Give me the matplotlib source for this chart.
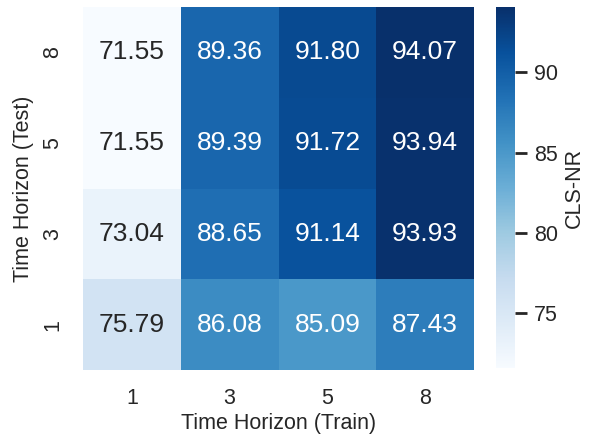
import matplotlib
matplotlib.use("Agg")
import matplotlib.pyplot as plt
import seaborn as sns
import numpy as np
import pandas as pd

train_horizons = [1, 3, 5, 8]
test_horizons = [8, 5, 3, 1]

# CLS-NR scores; rows follow test_horizons (top to bottom)
row_test8 = [71.55, 89.36, 91.80, 94.07]
row_test5 = [71.55, 89.39, 91.72, 93.94]
row_test3 = [73.04, 88.65, 91.14, 93.93]
row_test1 = [75.79, 86.08, 85.09, 87.43]

sns.set_theme(style="white")
plt.rcParams['font.family'] = ['Liberation Sans', 'DejaVu Sans']

df = pd.DataFrame([row_test8, row_test5, row_test3, row_test1],
                  index=test_horizons, columns=train_horizons)

fig = plt.figure(figsize=(5.97, 4.38), dpi=100)
ax = fig.add_axes([0.139, 0.155, 0.655, 0.829])
cax = fig.add_axes([0.831, 0.159, 0.032, 0.825])

sns.heatmap(df, ax=ax, cbar_ax=cax, cmap="Blues", annot=True, fmt=".2f",
            annot_kws={"fontsize": 19},
            cbar_kws={"label": "CLS-NR"})

ax.set_xlabel("Time Horizon (Train)", fontsize=15.5, labelpad=3)
ax.set_ylabel("Time Horizon (Test)", fontsize=15.5, labelpad=6)
ax.tick_params(axis='x', labelsize=15.5, length=0, pad=13)
ax.tick_params(axis='y', labelsize=15.5, length=0, pad=14)
for t in ax.get_yticklabels():
    t.set_rotation(90)
    t.set_va('center')

cax.tick_params(labelsize=15.5, length=8.5, width=2, color='#262626', pad=5)
cax.yaxis.label.set_size(15.5)
cax.set_yticks([75, 80, 85, 90])

fig.savefig("out.png", dpi=100)
